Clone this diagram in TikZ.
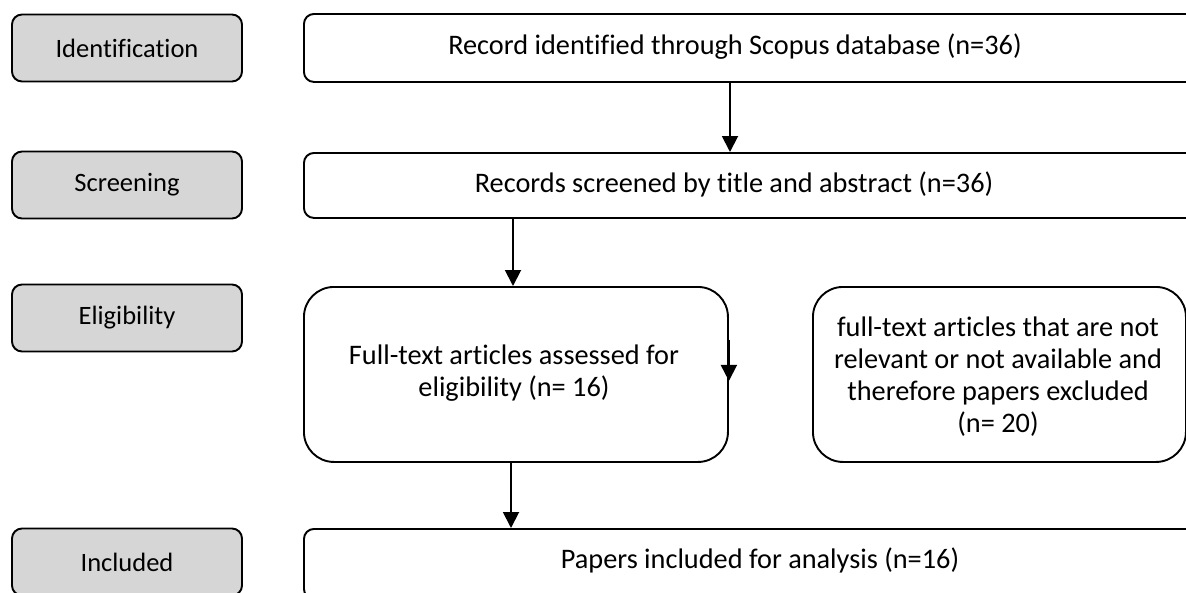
\documentclass[tikz,border=0pt]{standalone}
\usepackage{fontspec}
\setmainfont{Carlito}[Ligatures=CommonOff]
\usetikzlibrary{arrows.meta}
\begin{document}
\begin{tikzpicture}[x=1pt,y=-1pt,
  every node/.style={font=\fontsize{26.5}{32}\selectfont, inner sep=0pt},
  stage/.style={draw, line width=1.9pt, fill=black!16, rounded corners=10pt, minimum width=230pt, minimum height=67pt},
  flowbox/.style={draw, line width=1.9pt, rounded corners=10pt},
  bigbox/.style={draw, line width=1.9pt, rounded corners=30pt},
  txt/.style={align=center, font=\fontsize{28.3}{32}\selectfont},
  arr/.style={line width=1.9pt, -{Triangle[width=16pt,length=16pt]}}
]
\useasboundingbox (0,0) rectangle (1186,592);
\clip (0,0) rectangle (1186,592);
% stage labels
\node[stage] (sid) at (127,48) {Identification};
\node[stage] (ssc) at (127,185) {Screening};
\node[stage] (sel) at (127,318) {Eligibility};
\node[stage] (sin) at (127,562) {Included};
% main boxes
\node[flowbox, minimum width=897pt, minimum height=68pt, anchor=north west] (rec) at (303,13) {};
\node[txt] (rect) at (735,47) {Record identified through Scopus database (n=36)};
\node[flowbox, minimum width=897pt, minimum height=65pt, anchor=north west] (scr) at (303,152) {};
\node[txt] (scrt) at (734,184) {Records screened by title and abstract (n=36)};
\node[bigbox, minimum width=424pt, minimum height=175pt, anchor=north west] (eli) at (303,286) {};
\node[txt] (elit) at (514,373) {Full-text articles assessed for\\eligibility (n= 16)};
\node[bigbox, minimum width=373pt, minimum height=175pt, anchor=north west] (exc) at (812,286) {};
\node[txt] (exct) at (998,377) {full-text articles that are not\\relevant or not available and\\therefore papers excluded\\(n= 20)};
\node[flowbox, minimum width=897pt, minimum height=70pt, anchor=north west] (inc) at (303,528) {};
\node[txt] (inct) at (760,560) {Papers included for analysis (n=16)};
% connectors
\draw[arr] (rec.south -| 730,0) -- (scr.north -| 730,0);
\draw[arr] (scr.south -| 513,0) -- (eli.north -| 513,0);
\draw[arr] (eli.south -| 511,0) -- (inc.north -| 511,0);
\coordinate (sideA) at ([yshift=34pt]eli.east);
\coordinate (sideB) at ([yshift=-6.5pt]eli.east);
\draw[arr] (sideA) -- (sideB);
\end{tikzpicture}
\end{document}
